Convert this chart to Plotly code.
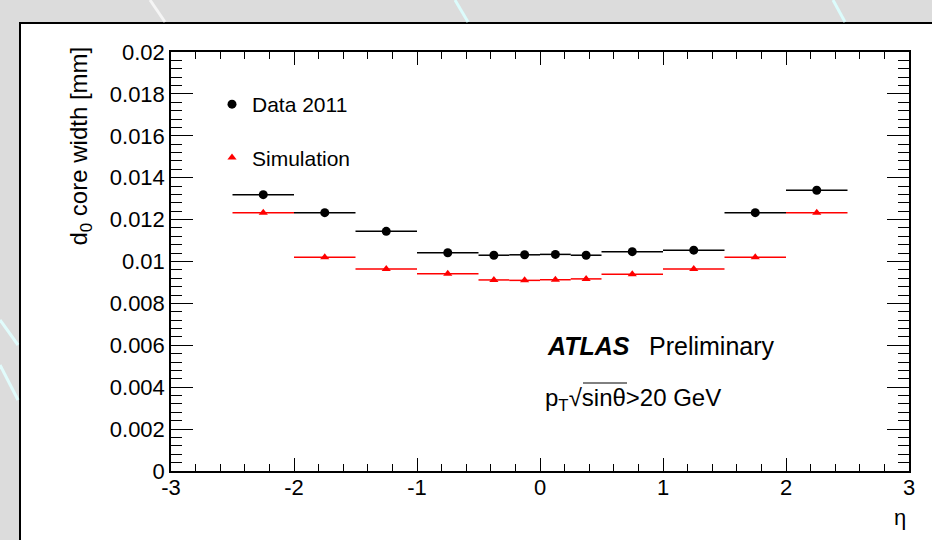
import plotly.graph_objects as go

# eta bins (centres and half-widths)
eta = [-2.25, -1.75, -1.25, -0.75, -0.375, -0.125, 0.125, 0.375, 0.75, 1.25, 1.75, 2.25]
eta_halfwidth = [0.25, 0.25, 0.25, 0.25, 0.125, 0.125, 0.125, 0.125, 0.25, 0.25, 0.25, 0.25]
data_2011 = [0.01319, 0.01233, 0.01144, 0.01042, 0.01030, 0.01032, 0.01034, 0.01030, 0.01047, 0.01054, 0.01233, 0.01340]
simulation = [0.01233, 0.01020, 0.00964, 0.00942, 0.00912, 0.00910, 0.00913, 0.00917, 0.00939, 0.00964, 0.01020, 0.01233]

y_ticks = [0, 0.002, 0.004, 0.006, 0.008, 0.01, 0.012, 0.014, 0.016, 0.018, 0.02]
y_tick_labels = ["0", "0.002", "0.004", "0.006", "0.008", "0.01", "0.012", "0.014", "0.016", "0.018", "0.02"]
x_ticks = [-3, -2, -1, 0, 1, 2, 3]
x_tick_labels = ["-3", "-2", "-1", "0", "1", "2", "3"]

FONT = "Liberation Sans, Arial, Helvetica, sans-serif"

W, H = 932, 540
L, R, T, B = 171, 23, 52, 69
PW, PH = W - L - R, H - T - B


def px(x):
    return (x - L) / PW


def py(y):
    return (H - B - y) / PH


fig = go.Figure()

fig.add_trace(go.Scatter(
    x=eta, y=data_2011, mode="markers", name="Data 2011",
    marker=dict(symbol="circle", size=9, color="black"),
    error_x=dict(type="data", array=eta_halfwidth, color="black", thickness=1.5, width=0),
    legendgroup="a",
))
fig.add_trace(go.Scatter(
    x=eta, y=simulation, mode="markers", name="Simulation",
    marker=dict(symbol="triangle-up", size=8, color="red"),
    error_x=dict(type="data", array=eta_halfwidth, color="red", thickness=1.5, width=0),
    legendgroup="b",
))

shapes = [
    # white canvas panel with black frame
    dict(type="rect", xref="paper", yref="paper",
         x0=px(20), x1=px(940), y0=py(550), y1=py(23),
         fillcolor="white", line=dict(color="black", width=2), layer="below"),
]
# faint streaks in grey background
for (x0, y0, x1, y1, c) in [
    (150, 0, 165, 22, "rgba(255,255,255,0.7)"),
    (455, 0, 468, 22, "rgba(220,255,255,0.9)"),
    (833, 0, 845, 22, "rgba(220,255,255,0.9)"),
    (0, 320, 18, 345, "rgba(225,255,255,0.9)"),
    (0, 365, 18, 400, "rgba(225,255,255,0.9)"),
]:
    shapes.append(dict(type="line", xref="paper", yref="paper",
                       x0=px(x0), x1=px(x1), y0=py(y0), y1=py(y1),
                       line=dict(color=c, width=3), layer="below"))

# sqrt overline
shapes.append(dict(type="line", xref="paper", yref="paper",
                   x0=px(583), x1=px(627), y0=py(383), y1=py(383),
                   line=dict(color="black", width=1)))

annotations = [
    dict(text="d<sub>0</sub> core width [mm]", xref="paper", yref="paper",
         x=px(80), y=py(45), xanchor="center", yanchor="top", textangle=-90,
         showarrow=False, font=dict(size=24, color="black", family=FONT)),
    dict(text="η", xref="paper", yref="paper", x=px(900), y=py(517),
         xanchor="center", yanchor="middle", showarrow=False,
         font=dict(size=22, color="black", family=FONT)),
    dict(text="<b><i>ATLAS</i></b>", xref="paper", yref="paper", x=px(545), y=py(346),
         xanchor="left", yanchor="middle", showarrow=False,
         font=dict(size=25, color="black", family=FONT)),
    dict(text="Preliminary", xref="paper", yref="paper", x=px(647), y=py(346),
         xanchor="left", yanchor="middle", showarrow=False,
         font=dict(size=25, color="black", family=FONT)),
    dict(text="p<sub>T</sub>√sinθ>20 GeV", xref="paper", yref="paper", x=px(543), y=py(399),
         xanchor="left", yanchor="middle", showarrow=False,
         font=dict(size=24, color="black", family=FONT)),
]

axis_common = dict(
    showgrid=False, zeroline=False, showline=True, linecolor="black", linewidth=1.5,
    mirror="allticks", ticks="inside", tickcolor="black", tickwidth=1.2,
    tickfont=dict(size=22, color="black", family=FONT),
)

fig.update_layout(
    width=W, height=H,
    margin=dict(l=L, r=R, t=T, b=B),
    paper_bgcolor="#dcdcdc",
    plot_bgcolor="white",
    font=dict(family=FONT, color="black"),
    shapes=shapes,
    annotations=annotations,
    showlegend=True,
    legend=dict(x=px(212), y=py(84), xanchor="left", yanchor="top",
                bgcolor="rgba(0,0,0,0)", font=dict(size=21, color="black", family=FONT),
                tracegroupgap=23, itemwidth=30),
    xaxis=dict(range=[-3, 3], tickvals=x_ticks, ticktext=x_tick_labels, ticklen=13,
               ticklabelstandoff=-4,
               minor=dict(dtick=0.2, ticklen=7, ticks="inside", tickcolor="black", tickwidth=1),
               **axis_common),
    yaxis=dict(range=[0, 0.02], tickvals=y_ticks, ticktext=y_tick_labels, ticklen=22,
               minor=dict(dtick=0.0004, ticklen=11, ticks="inside", tickcolor="black", tickwidth=1),
               **axis_common),
)

fig.write_html("out.html", config={"displayModeBar": False},
               post_script="document.body.style.margin='0';")
